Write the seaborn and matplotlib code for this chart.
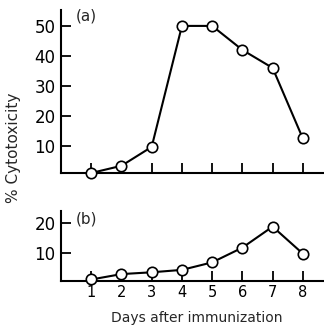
import matplotlib
matplotlib.use("Agg")
import matplotlib.pyplot as plt
import seaborn as sns
import pandas as pd

days = [1, 2, 3, 4, 5, 6, 7, 8]
cyto_a = [1.0, 3.4, 9.7, 50.0, 50.0, 42.0, 36.0, 12.5]
cyto_b = [1.1, 2.9, 3.5, 4.3, 6.8, 11.7, 18.7, 9.7]
yticks_a = [10, 20, 30, 40, 50]
yticks_b = [10, 20]
panel_labels = ["(a)", "(b)"]
xlabel = "Days after immunization"
ylabel = "% Cytotoxicity"

sns.set_style("white")
plt.rcParams['font.family'] = ['DejaVu Sans']

fig = plt.figure(figsize=(3.24, 3.26), dpi=100)
W, H = 324, 326
def ax_rect(x0, ytop, x1, ybot):
    return [x0 / W, (H - ybot) / H, (x1 - x0) / W, (ybot - ytop) / H]

ax_a = fig.add_axes(ax_rect(61, 10, 324, 173))
ax_b = fig.add_axes(ax_rect(61, 211, 324, 281))

df_a = pd.DataFrame({"day": days, "val": cyto_a})
df_b = pd.DataFrame({"day": days, "val": cyto_b})

style = dict(color="black", linewidth=1.5, marker="o", markersize=7.5,
             markerfacecolor="white", markeredgecolor="black", markeredgewidth=1.2)

for ax, df, yt, ylim, lab, laby in [
    (ax_a, df_a, yticks_a, (1.0, 55.3), panel_labels[0], 53.3),
    (ax_b, df_b, yticks_b, (0.6, 23.9), panel_labels[1], 21.2),
]:
    sns.lineplot(data=df, x="day", y="val", ax=ax, **style)
    ax.set_xlim(0, 8.7)
    ax.set_ylim(*ylim)
    ax.set_yticks(yt)
    ax.set_xticks(days)
    for s in ["top", "right"]:
        ax.spines[s].set_visible(False)
    for s in ["left", "bottom"]:
        ax.spines[s].set_linewidth(1.5)
        ax.spines[s].set_color("black")
    ax.tick_params(axis="both", direction="in", length=7.5, width=1.3,
                   colors="black", pad=4, bottom=True, left=True)
    ax.tick_params(axis="y", labelsize=12)
    ax.set_xlabel("")
    ax.set_ylabel("")
    ax.text(0.5, laby, lab, fontsize=11, ha="left", va="center")
    for line in ax.lines:
        line.set_clip_on(False)
        line.set_zorder(3)

ax_a.tick_params(axis="x", labelbottom=False)
ax_b.tick_params(axis="x", labelsize=10.5, pad=3)
ax_b.set_xticklabels([str(d) for d in days])

fig.text(197 / W, 1 - 318 / H, xlabel, fontsize=10, ha="center", va="center")
fig.text(14 / W, 1 - 148 / H, ylabel, fontsize=11, ha="center", va="center",
         rotation=90)

fig.savefig("out.png", dpi=100)
